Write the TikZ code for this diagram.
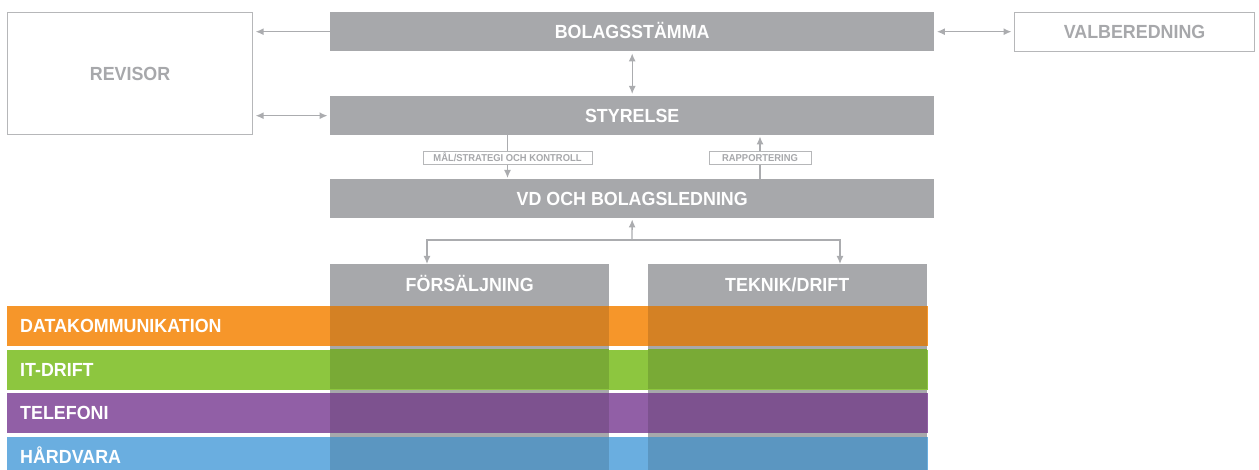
\documentclass[tikz,border=0pt]{standalone}
\usepackage{fontspec}
\newfontfamily\hv{Liberation Sans}[FakeStretch=0.94]
\usetikzlibrary{arrows.meta}
\definecolor{bargray}{HTML}{A7A8AB}
\definecolor{linegray}{HTML}{ABACAF}
\definecolor{boxgray}{HTML}{B6B7B9}
\definecolor{txtgray}{HTML}{A7A8AB}
\definecolor{orng}{HTML}{F6962A}
\definecolor{grn}{HTML}{8DC63F}
\definecolor{prp}{HTML}{915FA6}
\definecolor{blu}{HTML}{6AAEE0}
\begin{document}
\begin{tikzpicture}[x=1pt,y=-1pt,
  bigfont/.style={font=\hv\bfseries\fontsize{19}{19}\selectfont,text height=13.6pt,text depth=0pt},
  bar/.style={bigfont,fill=bargray,draw=none,anchor=north west,minimum width=604pt,minimum height=39pt,inner sep=0pt,text=white},
  colhead/.style={bigfont,fill=bargray,draw=none,anchor=north west,minimum width=279pt,minimum height=42pt,inner sep=0pt,text=white},
  obox/.style={bigfont,draw=boxgray,line width=1.1pt,fill=white,anchor=north west,inner sep=0pt,text=txtgray},
  tagbox/.style={draw=boxgray,line width=1pt,fill=white,inner sep=0pt,minimum height=13pt,text height=7pt,text depth=0pt,text=txtgray,font=\hv\bfseries\fontsize{10}{10}\selectfont},
  band/.style={bigfont,anchor=north west,inner xsep=13pt,inner ysep=0pt,text width=895pt,minimum height=40pt,align=left,text=white},
  conn/.style={draw=linegray,line width=1.3pt},
  arr/.style={-{Latex[length=8pt,width=7pt]}},
  darr/.style={{Latex[length=8pt,width=7pt]}-{Latex[length=8pt,width=7pt]}}
]
\useasboundingbox (0,0) rectangle (1259,470);

% top boxes
\node[obox,minimum width=245pt,minimum height=122pt] (revisor) at (7,12) {REVISOR};
\node[obox,minimum width=240pt,minimum height=39pt] (valb) at (1014,12) {VALBEREDNING};
\node[bar] (bolag) at (330,12) {BOLAGSSTÄMMA};
\node[bar] (styr) at (330,96) {STYRELSE};
\node[bar] (vd) at (330,179) {VD OCH BOLAGSLEDNING};

% connectors top
\draw[conn,arr,shorten >=2.5pt] (bolag.west) -- (bolag.west -| revisor.east);
\draw[conn,darr,shorten >=2.5pt,shorten <=2.5pt] (styr.west) -- (styr.west -| revisor.east);
\draw[conn,darr,shorten >=2.5pt,shorten <=2.5pt] (bolag.east) -- (bolag.east -| valb.west);
\draw[conn,darr,shorten >=2pt,shorten <=2pt] (bolag.south) -- (styr.north);

% tags
\node[tagbox,minimum width=169pt] (mal) at (507.5,158.5) {MÅL/STRATEGI OCH KONTROLL};
\node[tagbox,minimum width=102pt] (rapp) at (760,158.5) {RAPPORTERING};
\draw[conn] (styr.south -| mal.north) -- (mal.north);
\draw[conn,arr,shorten >=1pt] (mal.south) -- (vd.north -| mal.south);
\draw[conn] (vd.north -| rapp.south) -- (rapp.south);
\draw[conn,arr,shorten >=1pt] (rapp.north) -- (styr.south -| rapp.north);

% columns
\node[colhead] (fors) at (330,264) {FÖRSÄLJNING};
\node[colhead] (tek) at (647.5,264) {TEKNIK/DRIFT};
\fill[bargray] (fors.south west) rectangle (609,470);
\fill[bargray] (tek.south west) rectangle (927,470);

\coordinate (j) at (632,240);
\coordinate (fa) at (427,240);
\coordinate (ta) at (840,240);
\draw[conn,arr,shorten >=1pt] (j) -- (vd.south);
\draw[conn,darr] (fa |- fors.north) -- (fa) -- (ta) -- (ta |- tek.north);

% bands
\node[band,fill=orng] (b1) at (7,306) {DATAKOMMUNIKATION};
\node[band,fill=grn] (b2) at (7,349.5) {IT-DRIFT};
\node[band,fill=prp] (b3) at (7,393) {TELEFONI};
\node[band,fill=blu] (b4) at (7,436.5) {HÅRDVARA};

% overlaps
\foreach \c/\t/\b in {orng/306/346, grn/349.5/389.5, prp/393/433, blu/436.5/476.5}{
  \fill[\c!86!black] (330,\t) rectangle (609,\b);
  \fill[\c!86!black] (647.5,\t) rectangle (927,\b);
}
\end{tikzpicture}
\end{document}
